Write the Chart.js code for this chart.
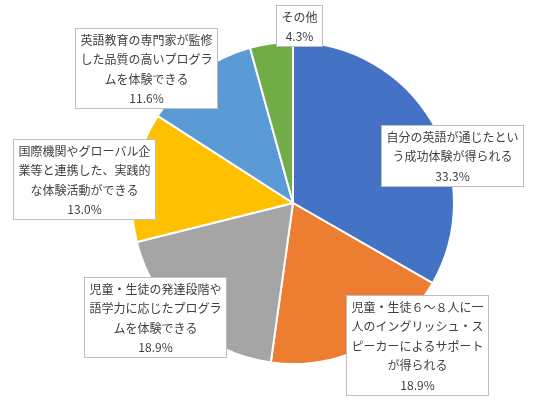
<!DOCTYPE html>
<html>
<head>
<meta charset="utf-8">
<script src="https://cdn.jsdelivr.net/npm/chart.js@4/dist/chart.umd.min.js"></script>
<style>
html,body{margin:0;padding:0;background:#fff;}
#wrap{width:544px;height:408px;position:relative;}
</style>
</head>
<body>
<div id="wrap"><canvas id="c" width="544" height="408"></canvas></div>
<script>
// ---- data ----
const categories = [
  ["自分の英語が通じたとい", "う成功体験が得られる"],
  ["児童・生徒６～８人に一", "人のイングリッシュ・ス", "ピーカーによるサポート", "が得られる"],
  ["児童・生徒の発達段階や", "語学力に応じたプログラ", "ムを体験できる"],
  ["国際機関やグローバル企", "業等と連携した、実践的", "な体験活動ができる"],
  ["英語教育の専門家が監修", "した品質の高いプログラ", "ムを体験できる"],
  ["その他"]
];
const values = [33.3, 18.9, 18.9, 13.0, 11.6, 4.3];

// ---- styles / layout ----
const sliceColors = ["#4472C4", "#ED7D31", "#A5A5A5", "#FFC000", "#5B9BD5", "#70AD47"];
// callout box centres, relative to pie centre in units of the radius
const boxOffsets = [
  [0.985, -0.293],
  [0.772, 0.880],
  [-0.858, 0.707],
  [-1.299, -0.148],
  [-0.910, -0.840],
  [0.040, -1.105]
];
const FONT = '12px "Noto Sans CJK JP", "Noto Sans", sans-serif';
const LINE_H = 19.5;

const calloutPlugin = {
  id: 'callouts',
  afterDatasetsDraw(chart) {
    const ctx = chart.ctx;
    const meta = chart.getDatasetMeta(0);
    const data = chart.data.datasets[0].data;
    ctx.save();
    ctx.font = FONT;
    meta.data.forEach((arc, i) => {
      const r = arc.outerRadius;
      const lines = chart.data.labels[i].concat([data[i].toFixed(1) + '%']);
      let w = 0;
      lines.forEach(l => { w = Math.max(w, ctx.measureText(l).width); });
      const bw = Math.round(w + 10);
      const bh = Math.round(lines.length * LINE_H + 2);
      const cx = arc.x + boxOffsets[i][0] * r;
      const cy = arc.y + boxOffsets[i][1] * r;
      const left = Math.round(cx - bw / 2) + 0.5;
      const top = Math.round(cy - bh / 2) + 0.5;
      ctx.fillStyle = '#ffffff';
      ctx.fillRect(left, top, bw, bh);
      ctx.strokeStyle = '#BFBFBF';
      ctx.lineWidth = 1;
      ctx.strokeRect(left, top, bw, bh);
      ctx.fillStyle = '#404040';
      ctx.textAlign = 'center';
      ctx.textBaseline = 'middle';
      lines.forEach((l, j) => {
        ctx.fillText(l, left + bw / 2, top + 2 + LINE_H * (j + 0.5));
      });
    });
    ctx.restore();
  }
};

const bgPlugin = {
  id: 'bg',
  beforeDraw(chart) {
    const c = chart.ctx;
    c.save();
    c.fillStyle = '#ffffff';
    c.fillRect(0, 0, chart.width, chart.height);
    c.restore();
  }
};

new Chart(document.getElementById('c'), {
  type: 'pie',
  data: {
    labels: categories,
    datasets: [{
      data: values,
      backgroundColor: sliceColors,
      borderColor: '#ffffff',
      borderWidth: 2,
      hoverOffset: 0
    }]
  },
  options: {
    responsive: false,
    animation: false,
    devicePixelRatio: 1,
    layout: { padding: { left: 131, right: 89, top: 41, bottom: 43 } },
    plugins: {
      legend: { display: false },
      tooltip: { enabled: false }
    }
  },
  plugins: [bgPlugin, calloutPlugin]
});
</script>
</body>
</html>
